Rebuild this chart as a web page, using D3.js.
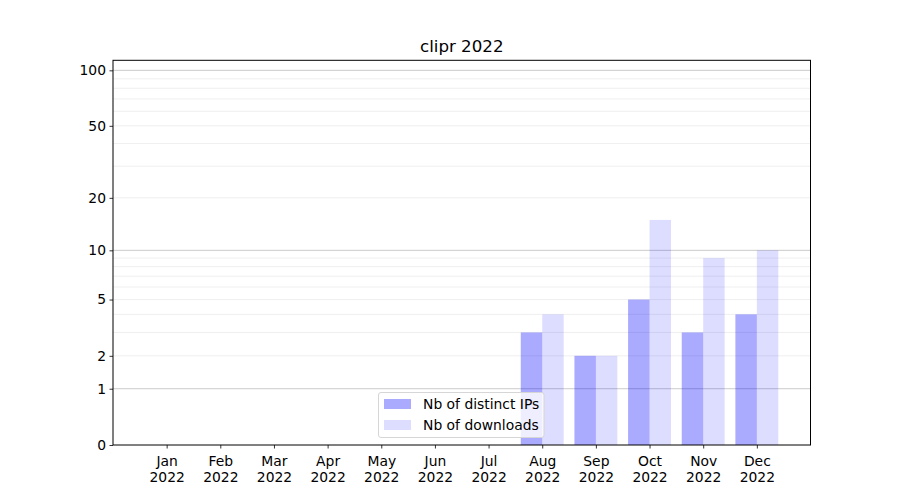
<!DOCTYPE html>
<html>
<head>
<meta charset="utf-8">
<script src="https://cdn.jsdelivr.net/npm/d3@7"></script>
<style>
  body { margin: 0; background: #fff; }
  text { font-family: "DejaVu Sans", sans-serif; }
</style>
</head>
<body>
<svg id="chart" width="900" height="500"></svg>
<script>
const title = "clipr 2022";
const months = ["Jan", "Feb", "Mar", "Apr", "May", "Jun", "Jul", "Aug", "Sep", "Oct", "Nov", "Dec"];
const yearLabel = "2022";
const distinctIPs = [0, 0, 0, 0, 0, 0, 0, 3, 2, 5, 3, 4];
const downloads   = [0, 0, 0, 0, 0, 0, 0, 4, 2, 15, 9, 10];
const yTicks = [0, 1, 2, 5, 10, 20, 50, 100];
const majorGrid = [1, 10, 100];
const minorGrid = [2, 3, 4, 5, 6, 7, 8, 9, 20, 30, 40, 50, 60, 70, 80, 90];
const seriesNames = ["Nb of distinct IPs", "Nb of downloads"];

const svg = d3.select("#chart");
const L = 113, R = 810.5, T = 60.3, B = 445;
const fs = "13.89px";

const x = d3.scaleLinear().domain([-1, 12]).range([L, R]);
const y = d3.scaleSymlog().constant(1).domain([0, 113.3]).range([B, T]);
const bw = x(0.4) - x(0);

// grid (below bars; bars are translucent)
const grid = svg.append("g");
grid.selectAll("line.minor").data(minorGrid).join("line")
  .attr("x1", L).attr("x2", R)
  .attr("y1", d => y(d)).attr("y2", d => y(d))
  .attr("stroke", "#ebebeb").attr("stroke-width", 0.8);
grid.selectAll("line.major").data(majorGrid).join("line")
  .attr("x1", L).attr("x2", R)
  .attr("y1", d => y(d)).attr("y2", d => y(d))
  .attr("stroke", "#cbcbcb").attr("stroke-width", 1);

// bars
const bars = svg.append("g");
bars.selectAll("rect.ip").data(distinctIPs).join("rect")
  .attr("x", (d, i) => x(i) - bw).attr("width", bw)
  .attr("y", d => y(d)).attr("height", d => B - y(d))
  .attr("fill", "blue").attr("fill-opacity", 0.333);
bars.selectAll("rect.dl").data(downloads).join("rect")
  .attr("x", (d, i) => x(i)).attr("width", bw)
  .attr("y", d => y(d)).attr("height", d => B - y(d))
  .attr("fill", "blue").attr("fill-opacity", 0.133);

// axes
const yAxis = d3.axisLeft(y).tickValues(yTicks).tickFormat(d3.format("d")).tickSizeOuter(0).tickSize(3.5).tickPadding(3.5);
const gy = svg.append("g").attr("transform", `translate(${L},0)`).call(yAxis);
gy.select(".domain").remove();
gy.selectAll("text").attr("font-size", fs).attr("fill", "#000");
gy.selectAll("line").attr("stroke", "#000").attr("stroke-width", 0.8);

const xAxis = d3.axisBottom(x).tickValues(d3.range(12)).tickFormat(() => "").tickSizeOuter(0).tickSize(3.5);
const gx = svg.append("g").attr("transform", `translate(0,${B})`).call(xAxis);
gx.select(".domain").remove();
gx.selectAll("line").attr("stroke", "#000").attr("stroke-width", 0.8);
gx.selectAll(".tick").each(function(d) {
  const t = d3.select(this).append("text").attr("fill", "#000").attr("font-size", fs).attr("text-anchor", "middle");
  t.append("tspan").attr("x", 0).attr("y", 20.5).text(months[d]);
  t.append("tspan").attr("x", 0).attr("y", 36.5).text(yearLabel);
});

// frame
svg.append("rect").attr("x", L).attr("y", T).attr("width", R - L).attr("height", B - T)
  .attr("fill", "none").attr("stroke", "#000").attr("stroke-width", 1);

// title
svg.append("text").attr("x", (L + R) / 2).attr("y", 52).attr("text-anchor", "middle")
  .attr("font-size", "16.67px").attr("fill", "#000").text(title);

// legend
const lg = svg.append("g");
lg.append("rect").attr("x", 378.5).attr("y", 392.5).attr("width", 165.5).attr("height", 45)
  .attr("rx", 2.5).attr("fill", "rgba(255,255,255,0.8)").attr("stroke", "#d6d6d6").attr("stroke-width", 1);
const opac = [0.333, 0.133];
seriesNames.forEach((name, i) => {
  const yy = 399 + i * 21;
  lg.append("rect").attr("x", 384).attr("y", yy).attr("width", 27).attr("height", 10)
    .attr("fill", "blue").attr("fill-opacity", opac[i]);
  lg.append("text").attr("x", 423).attr("y", yy + 9.5).attr("font-size", fs).attr("fill", "#000").text(name);
});
</script>
</body>
</html>
